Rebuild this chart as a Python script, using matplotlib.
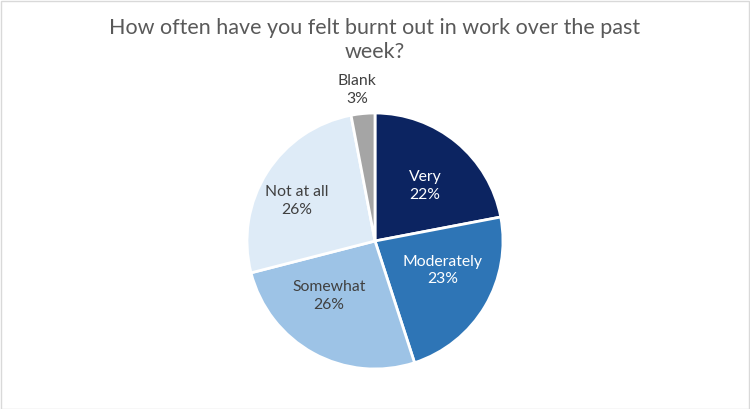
import matplotlib.pyplot as plt
from matplotlib.patches import Rectangle

categories = ["Very", "Moderately", "Somewhat", "Not at all", "Blank"]
shares = [22, 23, 26, 26, 3]
colors = ["#0c2461", "#2e75b6", "#9dc3e6", "#deebf7", "#a5a5a5"]
label_colors = ["white", "white", "#404040", "#404040", "#404040"]
# label anchor points in pie-radius units
label_xy = [(0.39, 0.43), (0.53, -0.23), (-0.36, -0.43), (-0.61, 0.31), (-0.14, 1.18)]

plt.rcParams["font.family"] = ["Lato", "DejaVu Sans"]

W, H = 750, 409
fig = plt.figure(figsize=(W / 100, H / 100), dpi=100)
fig.patch.set_facecolor("white")

cx, cy, r = 375, 241, 128
ax = fig.add_axes([(cx - r) / W, (H - cy - r) / H, 2 * r / W, 2 * r / H])
ax.pie(shares, colors=colors, startangle=90, counterclock=False, radius=1,
       wedgeprops=dict(edgecolor="white", linewidth=2))
ax.set_xlim(-1, 1)
ax.set_ylim(-1, 1)
ax.set_aspect("equal")
ax.axis("off")

for name, val, (lx, ly), tc in zip(categories, shares, label_xy, label_colors):
    ax.text(lx, ly, f"{name}\n{val}%", ha="center", va="center", color=tc,
            fontsize=11.3, linespacing=1.35, clip_on=False)

fig.text(0.5, 1 - 40.5 / H, "How often have you felt burnt out in work over the past\nweek?",
         ha="center", va="center", fontsize=15.5, color="#595959", linespacing=1.25)

fig.patches.append(Rectangle((0.5 / W, 0.5 / H), 1 - 1.5 / W, 1 - 1.5 / H,
                             transform=fig.transFigure, fill=False,
                             edgecolor="#d9d9d9", linewidth=1))

fig.savefig("out.png", dpi=100, facecolor="white")
